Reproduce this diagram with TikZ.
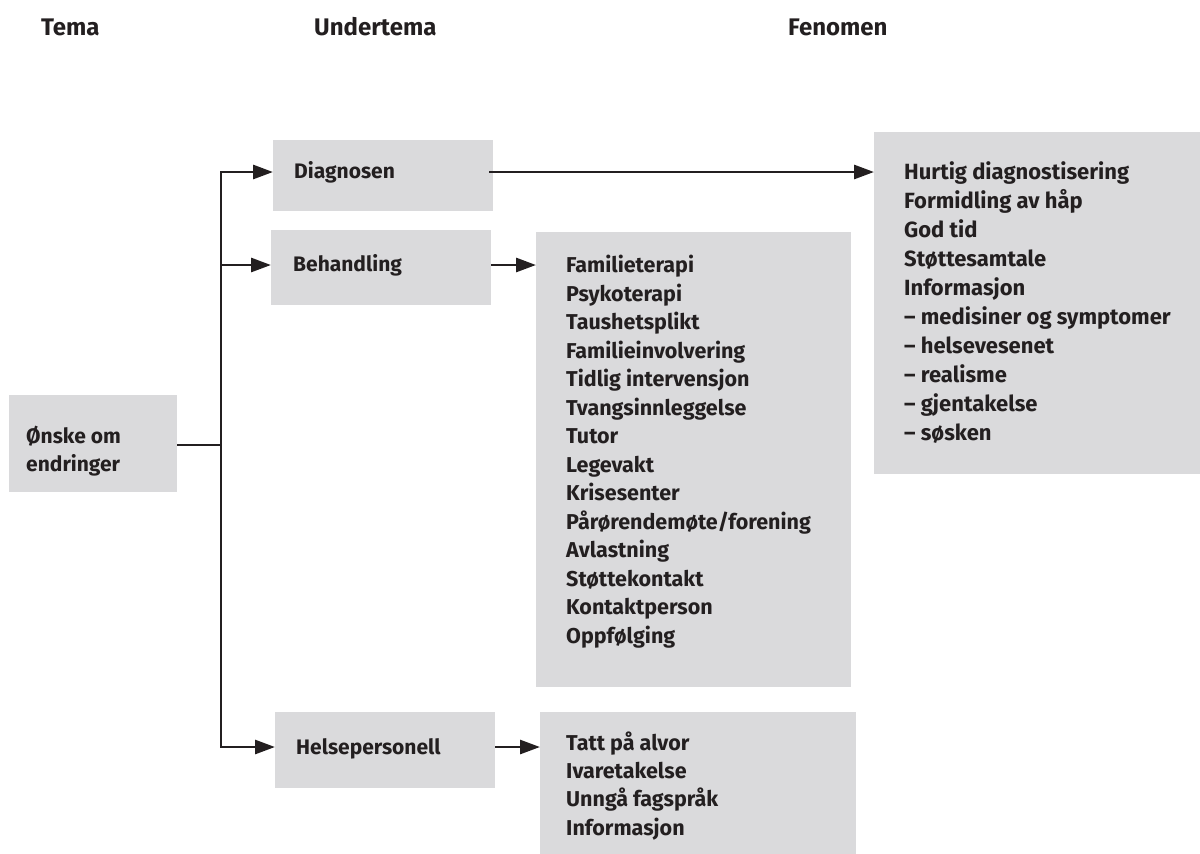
\documentclass[tikz,border=0pt]{standalone}
\usepackage{fontspec}
\setmainfont{Fira Sans}
\usetikzlibrary{arrows.meta}
\definecolor{boxgray}{HTML}{DADADC}
\definecolor{ink}{HTML}{231F20}
\begin{document}
\begin{tikzpicture}[x=1pt,y=-1pt,
  box/.style={fill=boxgray, draw=none, inner sep=0pt, outer sep=0pt, anchor=north west},
  lbl/.style={font=\fontsize{21.5}{28.5}\selectfont\bfseries, text=ink, inner sep=0pt, anchor=base west, align=left},
  hdr/.style={font=\fontsize{24}{28}\selectfont\bfseries, text=ink, inner sep=0pt, anchor=base west},
  link/.style={draw=ink, line width=2.8pt},
  arr/.style={link, -{Triangle[length=20pt,width=14pt]}}]
\useasboundingbox (0,0) rectangle (1200,854);
% headers
\node[hdr] (h1) at (41,35) {Tema};
\node[hdr] (h2) at (314,35) {Undertema};
\node[hdr] (h3) at (788,35) {Fenomen};
% boxes
\node[box, minimum width=168pt, minimum height=97pt] (onske) at (9,395) {};
\node[box, minimum width=220pt, minimum height=71pt] (diag) at (273,140) {};
\node[box, minimum width=220pt, minimum height=75pt] (beh) at (271,230) {};
\node[box, minimum width=220pt, minimum height=76pt] (helse) at (275,712) {};
\node[box, minimum width=326pt, minimum height=342pt] (hurtig) at (874,132) {};
\node[box, minimum width=315pt, minimum height=455pt] (fam) at (536,232) {};
\node[box, minimum width=316pt, minimum height=142pt] (tatt) at (540,712) {};
% texts (anchored at the baseline of the last line)
\node[lbl, font=\fontsize{21}{28}\selectfont\bfseries] (onskeT) at (26,471) {Ønske om\\endringer};
\node[lbl, font=\fontsize{21}{28}\selectfont\bfseries] (diagT) at (294,178) {Diagnosen};
\node[lbl, font=\fontsize{21}{28}\selectfont\bfseries] (behT) at (293,271) {Behandling};
\node[lbl, font=\fontsize{21}{28}\selectfont\bfseries] (helseT) at (296,754) {Helsepersonell};
\node[lbl, font=\fontsize{22}{29}\selectfont\bfseries] (hurtigT) at (904,440) {Hurtig diagnostisering\\Formidling av håp\\God tid\\Støttesamtale\\Informasjon\\– medisiner og symptomer\\– helsevesenet\\– realisme\\– gjentakelse\\– søsken};
\node[lbl] (famT) at (566,643) {Familieterapi\\Psykoterapi\\Taushetsplikt\\Familieinvolvering\\Tidlig intervensjon\\Tvangsinnleggelse\\Tutor\\Legevakt\\Krisesenter\\Pårørendemøte/forening\\Avlastning\\Støttekontakt\\Kontaktperson\\Oppfølging};
\node[lbl, font=\fontsize{21.5}{28.3}\selectfont\bfseries] (tattT) at (566,835) {Tatt på alvor\\Ivaretakelse\\Unngå fagspråk\\Informasjon};
% connector levels
\coordinate (trunk) at (221,445);
\coordinate (yD) at (0,172);
\coordinate (yB) at (0,265);
\coordinate (yH) at (0,747);
% connectors
\draw[link] (onske.east |- trunk) -- (trunk);
\draw[link, line cap=rect] (trunk |- yD) -- (trunk |- yH);
\draw[arr] (trunk |- yD) -- (diag.west |- yD);
\draw[arr] (trunk |- yB) -- (beh.west |- yB);
\draw[arr] (trunk |- yH) -- (helse.west |- yH);
\draw[arr] ([xshift=-4pt]diag.east |- yD) -- (hurtig.west |- yD);
\draw[arr] (beh.east |- yB) -- (fam.west |- yB);
\draw[arr] (helse.east |- yH) -- (tatt.west |- yH);
\end{tikzpicture}
\end{document}
